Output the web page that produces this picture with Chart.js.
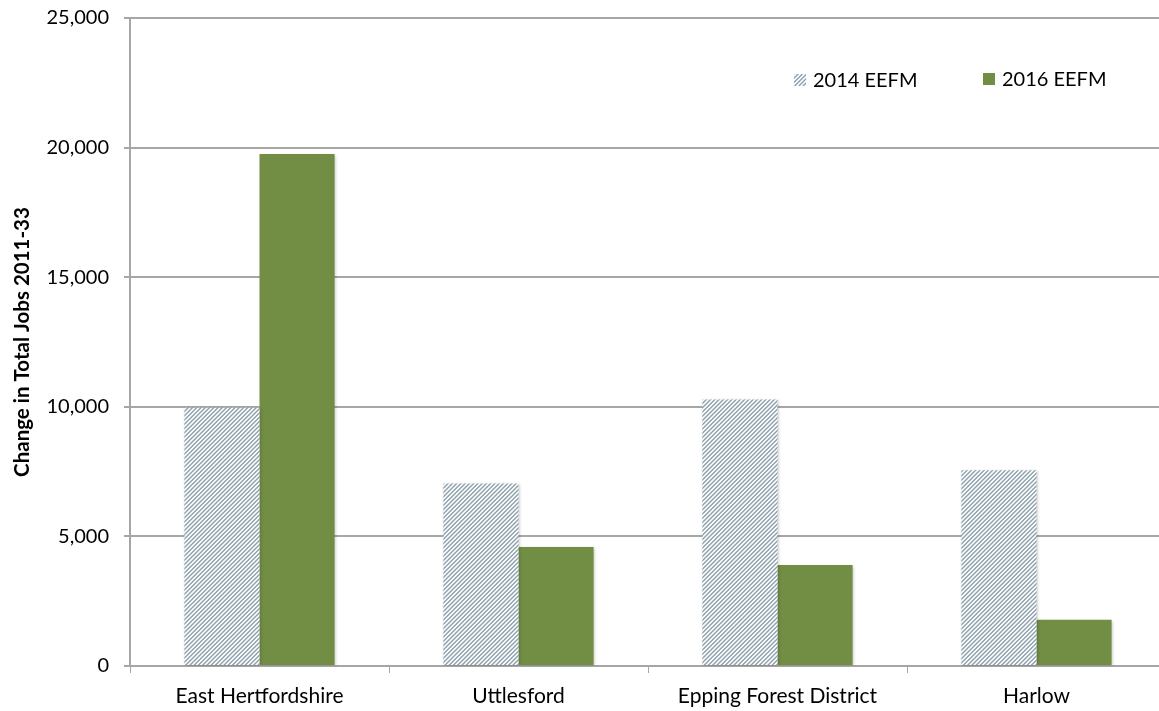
<!DOCTYPE html>
<html>
<head>
<meta charset="utf-8">
<script src="https://cdn.jsdelivr.net/npm/chart.js@4/dist/chart.umd.min.js"></script>
<style>
  html, body { margin: 0; padding: 0; background: #ffffff; overflow: hidden; }
  #wrap { position: relative; width: 1166px; height: 711px; }
</style>
</head>
<body>
<div id="wrap"><canvas id="chart" width="1166" height="711"></canvas></div>
<script>
// Districts and change in total jobs 2011-33 under each forecast run
const districts = ['East Hertfordshire', 'Uttlesford', 'Epping Forest District', 'Harlow'];
const eefm2014 = [9960, 7040, 10285, 7550];
const eefm2016 = [19755, 4590, 3900, 1780];
const seriesNames = ['2014 EEFM', '2016 EEFM'];
const yTicks = [0, 5000, 10000, 15000, 20000, 25000];

const FONT = 'Lato, "Open Sans", "DejaVu Sans", sans-serif';
const GREEN = '#718e44';
const STRIPE = [140, 161, 173];

// Upward diagonal hatch tile, supersampled so the stripes stay soft
function hatchPattern() {
  const N = 17, period = 4.25, width = 2.0, ss = 4;
  const t = document.createElement('canvas');
  t.width = N; t.height = N;
  const c = t.getContext('2d');
  const img = c.createImageData(N, N);
  for (let y = 0; y < N; y++) {
    for (let x = 0; x < N; x++) {
      let hit = 0;
      for (let sy = 0; sy < ss; sy++) {
        for (let sx = 0; sx < ss; sx++) {
          const s = (x + (sx + 0.5) / ss + y + (sy + 0.5) / ss) % period;
          if (s < width) hit++;
        }
      }
      const a = hit / (ss * ss);
      const i = (y * N + x) * 4;
      img.data[i]     = Math.round(255 + (STRIPE[0] - 255) * a);
      img.data[i + 1] = Math.round(255 + (STRIPE[1] - 255) * a);
      img.data[i + 2] = Math.round(255 + (STRIPE[2] - 255) * a);
      img.data[i + 3] = 255;
    }
  }
  c.putImageData(img, 0, 0);
  return document.getElementById('chart').getContext('2d').createPattern(t, 'repeat');
}
const hatch = hatchPattern();

// Soft drop shadow behind the bars
const barShadow = {
  id: 'barShadow',
  beforeDatasetsDraw(chart) {
    const ctx = chart.ctx;
    ctx.save();
    ctx.shadowColor = 'rgba(0,0,0,0.22)';
    ctx.shadowBlur = 3;
    ctx.shadowOffsetX = 1;
    ctx.shadowOffsetY = 1;
  },
  afterDatasetsDraw(chart) {
    chart.ctx.restore();
  }
};

// Legend placed inside the plot area, top right
const innerLegend = {
  id: 'innerLegend',
  afterDraw(chart) {
    const ctx = chart.ctx;
    const items = [
      { x: 794, y: 74 },
      { x: 983, y: 73 }
    ];
    ctx.save();
    ctx.font = '20px ' + FONT;
    ctx.textBaseline = 'middle';
    ctx.textAlign = 'left';
    chart.data.datasets.forEach((ds, i) => {
      const p = items[i];
      ctx.fillStyle = ds.backgroundColor;
      ctx.fillRect(p.x, p.y, 12, 12);
      ctx.fillStyle = '#000000';
      ctx.fillText(ds.label, p.x + 19, p.y + 7);
    });
    ctx.restore();
  }
};

new Chart(document.getElementById('chart'), {
  type: 'bar',
  data: {
    labels: districts,
    datasets: [
      { label: seriesNames[0], data: eefm2014, backgroundColor: hatch, borderWidth: 0 },
      { label: seriesNames[1], data: eefm2016, backgroundColor: GREEN, borderWidth: 0 }
    ]
  },
  options: {
    responsive: false,
    animation: false,
    devicePixelRatio: 1,
    layout: { padding: { top: 18, right: 0, left: 0, bottom: 0 } },
    plugins: {
      legend: { display: false },
      tooltip: { enabled: false }
    },
    datasets: {
      bar: { categoryPercentage: 0.58, barPercentage: 1.0 }
    },
    scales: {
      x: {
        grid: {
          display: true,
          drawOnChartArea: false,
          drawTicks: true,
          tickLength: 7,
          color: '#a6a6a6',
          lineWidth: 1,
          offset: true
        },
        border: { display: true, color: '#a6a6a6', width: 2 },
        ticks: {
          color: '#000000',
          font: { family: FONT, size: 21 },
          padding: 11,
          maxRotation: 0,
          autoSkip: false
        },
        afterFit(scale) { scale.height = 45; }
      },
      y: {
        min: 0,
        max: 25000,
        afterBuildTicks(scale) { scale.ticks = yTicks.map(v => ({ value: v })); },
        grid: {
          color: '#a6a6a6',
          lineWidth: 2,
          drawTicks: true,
          tickLength: 6
        },
        border: { display: true, color: '#a6a6a6', width: 2 },
        ticks: {
          color: '#000000',
          font: { family: FONT, size: 20 },
          padding: 15,
          callback: v => v.toLocaleString('en-GB')
        },
        title: {
          display: true,
          text: 'Change in Total Jobs 2011-33',
          color: '#000000',
          font: { family: FONT, size: 20.5, weight: 'bold' },
          padding: { top: 10, bottom: 0 }
        },
        afterFit(scale) {
          scale.width = 130;
          scale.paddingTop = 0;
          scale.paddingBottom = 0;
        }
      }
    }
  },
  plugins: [barShadow, innerLegend]
});
</script>
</body>
</html>
